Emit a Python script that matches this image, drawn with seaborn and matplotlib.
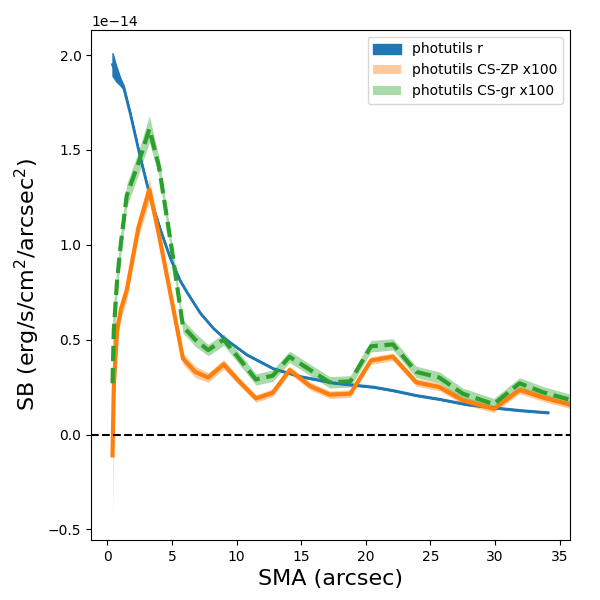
import numpy as np
import pandas as pd
import matplotlib
matplotlib.use("Agg")
import matplotlib.pyplot as plt
import seaborn as sns

# surface brightness profiles (values in units of 1e-14)
sma_r = [0.4, 0.7, 1.0, 1.26, 1.78, 2.55, 3.32, 4.1, 4.87, 5.64, 6.16, 7.19, 8.2,
         9.0, 10.8, 12.85, 14.9, 17.5, 19.3, 20.6, 22.1, 23.9, 25.7, 27.8, 29.9,
         31.9, 34.1]
sb_r = [1.95, 1.90, 1.86, 1.83, 1.69, 1.46, 1.25, 1.08, 0.93, 0.81, 0.75, 0.64, 0.56,
        0.51, 0.42, 0.347, 0.306, 0.272, 0.259, 0.25, 0.232, 0.206, 0.186, 0.158,
        0.141, 0.127, 0.115]
err_r = [0.06, 0.04, 0.02, 0.01, 0.005, 0.004, 0.003, 0.003, 0.003, 0.003, 0.003,
         0.003, 0.003, 0.003, 0.003, 0.003, 0.003, 0.003, 0.003, 0.003, 0.003, 0.003,
         0.003, 0.003, 0.003, 0.003, 0.003]

sma_cs = [0.4, 0.5, 0.75, 1.05, 1.5, 2.4, 3.25, 4.0, 5.0, 5.85, 6.8, 7.8, 9.0, 10.2,
          11.5, 12.8, 14.1, 15.7, 17.2, 18.8, 20.4, 22.1, 23.9, 25.7, 27.5, 29.9,
          31.9, 33.7, 35.8, 37.5]
sb_zp = [-0.11, 0.25, 0.55, 0.66, 0.76, 1.09, 1.29, 1.05, 0.70, 0.40, 0.33, 0.30,
         0.37, 0.28, 0.19, 0.22, 0.34, 0.255, 0.21, 0.215, 0.39, 0.41, 0.275, 0.25,
         0.18, 0.135, 0.235, 0.195, 0.157, 0.13]
err_zp = [0.32, 0.15, 0.06, 0.05, 0.05, 0.05, 0.06, 0.04, 0.03, 0.03, 0.03, 0.025,
          0.025, 0.02, 0.02, 0.02, 0.02, 0.02, 0.02, 0.02, 0.02, 0.02, 0.02, 0.02,
          0.02, 0.02, 0.02, 0.02, 0.02, 0.02]
sb_gr = [0.27, 0.55, 0.81, 1.01, 1.26, 1.43, 1.61, 1.41, 0.97, 0.57, 0.50, 0.445,
         0.50, 0.40, 0.29, 0.31, 0.41, 0.34, 0.275, 0.28, 0.465, 0.475, 0.33, 0.30,
         0.215, 0.16, 0.27, 0.223, 0.183, 0.16]
err_gr = [0.33, 0.15, 0.07, 0.06, 0.06, 0.06, 0.07, 0.05, 0.04, 0.035, 0.035, 0.03,
          0.03, 0.03, 0.03, 0.03, 0.03, 0.03, 0.03, 0.03, 0.03, 0.03, 0.03, 0.03,
          0.03, 0.03, 0.03, 0.03, 0.03, 0.03]

scale = 1e-14
df_r = pd.DataFrame({"sma": sma_r, "sb": np.array(sb_r) * scale,
                     "err": np.array(err_r) * scale})
df_cs = pd.DataFrame({"sma": sma_cs,
                      "zp": np.array(sb_zp) * scale, "zp_err": np.array(err_zp) * scale,
                      "gr": np.array(sb_gr) * scale, "gr_err": np.array(err_gr) * scale})

fig, ax = plt.subplots(figsize=(6, 6), dpi=100)
fig.subplots_adjust(left=0.152, right=0.95, bottom=0.1, top=0.95)

# photutils r band
ax.fill_between(df_r["sma"], df_r["sb"] - df_r["err"], df_r["sb"] + df_r["err"],
                color="C0", alpha=1.0, label="photutils r")
sns.lineplot(data=df_r, x="sma", y="sb", color="C0", lw=2, ax=ax, legend=False)

# colour-scaled profiles
ax.fill_between(df_cs["sma"], df_cs["zp"] - df_cs["zp_err"], df_cs["zp"] + df_cs["zp_err"],
                color="C1", alpha=0.4, lw=0, label="photutils CS-ZP x100")
sns.lineplot(data=df_cs, x="sma", y="zp", color="C1", lw=3, ax=ax, legend=False)

ax.fill_between(df_cs["sma"], df_cs["gr"] - df_cs["gr_err"], df_cs["gr"] + df_cs["gr_err"],
                color="C2", alpha=0.4, lw=0, label="photutils CS-gr x100")
sns.lineplot(data=df_cs, x="sma", y="gr", color="C2", lw=3, ls="--", ax=ax, legend=False)

ax.axhline(0, color="black", ls="--", lw=1.5)

ax.set_xlim(-1.25, 35.8)
ax.set_ylim(-0.556e-14, 2.132e-14)
ax.set_xlabel("SMA (arcsec)", fontsize=16)
ax.set_ylabel("SB (erg/s/cm$^2$/arcsec$^2$)", fontsize=16)
ax.legend(loc="upper right")

plt.savefig("out.png", dpi=100)
